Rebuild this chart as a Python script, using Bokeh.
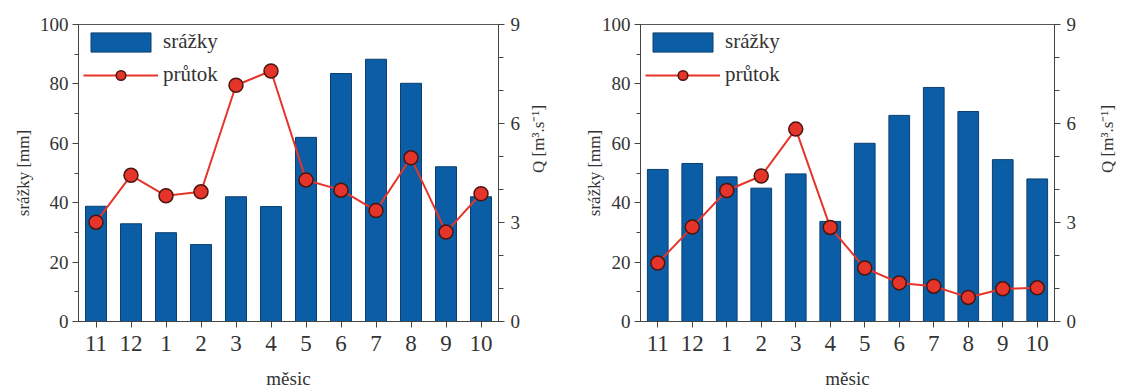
import math
from bokeh.plotting import figure
from bokeh.layouts import row
from bokeh.models import (FactorRange, Range1d, LinearAxis, SingleIntervalTicker,
                          Legend, LegendItem, ColumnDataSource)
from bokeh.embed import file_html
from bokeh.resources import INLINE

months = ["11", "12", "1", "2", "3", "4", "5", "6", "7", "8", "9", "10"]

rain_a = [38.8, 32.9, 29.9, 25.9, 42.0, 38.7, 62.0, 83.5, 88.3, 80.2, 52.1, 42.0]
flow_a = [3.01, 4.43, 3.81, 3.93, 7.16, 7.59, 4.29, 3.98, 3.36, 4.96, 2.71, 3.87]

rain_b = [51.2, 53.2, 48.7, 44.9, 49.7, 33.7, 60.0, 69.4, 78.8, 70.7, 54.5, 48.0]
flow_b = [1.77, 2.86, 3.97, 4.41, 5.83, 2.85, 1.62, 1.17, 1.07, 0.73, 0.99, 1.02]

FONT = "'Liberation Serif', 'Times New Roman', Times, serif"
TXT = "#333333"
BAR = "#0b5ea6"
BAR_LINE = "#0a3f70"
RED = "#e5352b"


def make(rain, flow, left_b, right_b, top_b, width, left_lab_so, right_lab_so):
    src = ColumnDataSource(dict(m=months, rain=rain, flow=flow))
    p = figure(x_range=FactorRange(*months, range_padding=0),
               y_range=Range1d(0, 100),
               width=width, height=391,
               min_border_left=left_b, min_border_right=right_b,
               min_border_top=top_b, min_border_bottom=69,
               output_backend="svg", toolbar_location=None,
               background_fill_color="white", border_fill_color="white")
    p.extra_y_ranges = {"q": Range1d(0, 9)}
    p.grid.visible = False
    p.outline_line_color = "#555555"
    p.outline_line_width = 1

    bars = p.vbar(x="m", top="rain", width=0.6, source=src,
                  fill_color=BAR, line_color=BAR_LINE, line_width=1)
    ln = p.line(x="m", y="flow", source=src, y_range_name="q",
                line_color=RED, line_width=2)
    sc = p.scatter(x="m", y="flow", source=src, y_range_name="q", size=14,
                   fill_color=RED, line_color="#4a1510", line_width=1.5)

    # left axis
    ya = p.yaxis[0]
    ya.ticker = SingleIntervalTicker(interval=20, num_minor_ticks=2)
    ya.axis_label = "srážky [mm]"
    ya.axis_label_text_font = FONT
    ya.axis_label_text_font_size = "17px"
    ya.axis_label_text_font_style = "normal"
    ya.axis_label_text_color = TXT
    ya.axis_label_standoff = left_lab_so
    ya.major_label_text_font = FONT
    ya.major_label_text_font_size = "19px"
    ya.major_label_text_color = TXT
    ya.major_tick_out = 6
    ya.major_tick_in = 0
    ya.minor_tick_out = 4
    ya.minor_tick_in = 0
    ya.major_label_standoff = 4

    # right axis
    ra = LinearAxis(y_range_name="q",
                    ticker=SingleIntervalTicker(interval=3, num_minor_ticks=3))
    ra.axis_label = "Q [m³.s⁻¹]"
    ra.axis_label_orientation = math.pi / 2
    ra.axis_label_text_font = FONT
    ra.axis_label_text_font_size = "17px"
    ra.axis_label_text_font_style = "normal"
    ra.axis_label_text_color = TXT
    ra.axis_label_standoff = right_lab_so
    ra.major_label_text_font = FONT
    ra.major_label_text_font_size = "19px"
    ra.major_label_text_color = TXT
    ra.major_tick_out = 6
    ra.major_tick_in = 0
    ra.minor_tick_out = 5
    ra.minor_tick_in = 0
    ra.major_label_standoff = 6
    p.add_layout(ra, "right")

    # bottom axis
    xa = p.xaxis[0]
    xa.axis_label = "měsic"
    xa.axis_label_text_font = FONT
    xa.axis_label_text_font_size = "19px"
    xa.axis_label_text_font_style = "normal"
    xa.axis_label_text_color = TXT
    xa.axis_label_standoff = 14
    xa.major_label_text_font = FONT
    xa.major_label_text_font_size = "23px"
    xa.major_label_text_color = TXT
    xa.major_tick_out = 6
    xa.major_tick_in = 0
    xa.major_label_standoff = 8

    for ax in (xa, ya, ra):
        ax.axis_line_color = "#444444"
        ax.major_tick_line_color = "#444444"
        ax.minor_tick_line_color = "#444444"

    legend = Legend(items=[LegendItem(label="srážky", renderers=[bars]),
                           LegendItem(label="průtok", renderers=[ln, sc])],
                    location="top_left")
    legend.margin = 5
    legend.padding = 0
    legend.spacing = 8
    legend.glyph_width = 75
    legend.glyph_height = 24
    legend.label_standoff = 5
    legend.label_text_font = FONT
    legend.label_text_font_size = "21px"
    legend.label_text_color = TXT
    legend.border_line_color = None
    legend.background_fill_alpha = 0
    p.add_layout(legend, "center")
    return p


p1 = make(rain_a, flow_a, 78, 67, 22, 565, 4, 15)
p2 = make(rain_b, flow_b, 75, 74, 24, 564, -5, 28)

layout = row(p1, p2)
open("out.html", "w").write(file_html(layout, INLINE))
